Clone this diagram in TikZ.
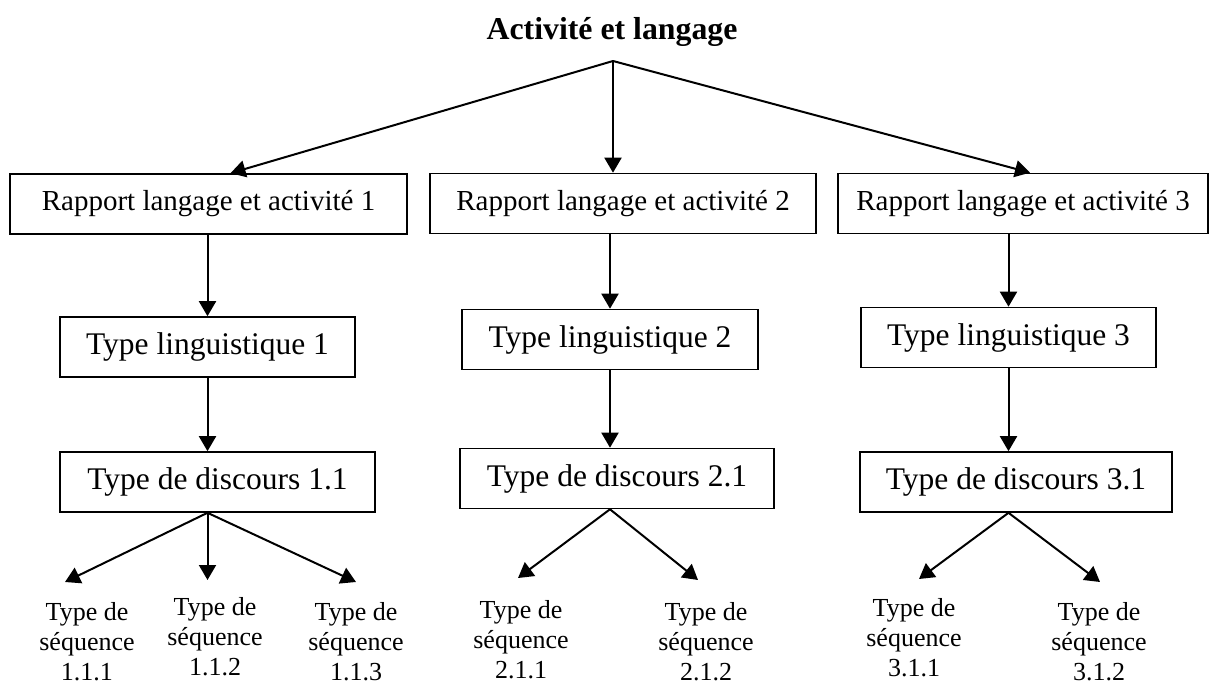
\documentclass[tikz,border=0pt]{standalone}
\usepackage{fontspec}
\setmainfont{Liberation Serif}
\usepackage{tikz}
\usetikzlibrary{arrows.meta}
\tikzset{
    boite/.style={
        draw, line width=0.8pt, inner sep=0pt,
        minimum width=#1, minimum height=30pt
    },
    boite/.default=150pt,
    fleche/.style={-{Triangle[length=7.5pt,width=8.5pt]}, line width=1pt},
    seq/.style={align=center, inner sep=0pt, anchor=north, font=\fontsize{13}{15}\selectfont}
}
\newcommand{\rapport}[4] {
	\node[boite=#4, font=\fontsize{14.5}{17}\selectfont] (#1) at (#2,#3) {Rapport langage et activité #1};
}
\newcommand{\typebox}[5] {
	\node[boite=#4, font=\fontsize{15.75}{18}\selectfont] (#1) at (#2,#3) {#5};
}
\newcommand{\seqlabel}[4] {
	\node[seq] (#1) at (#2,#3) {Type de\\séquence\\#4};
}

\begin{document}
\begin{tikzpicture}[x=0.5pt,y=-0.5pt]
		\useasboundingbox (0,0) rectangle (1210,684);

		% titre
		\node[anchor=base, font=\fontsize{15.9}{18}\selectfont\bfseries] (titre) at (612,40) {Activité et langage};
		\coordinate (top) at (613,61);

		% rapports
		\rapport{1}{208.5}{204}{198.5pt}
		\rapport{2}{623}{203.5}{193pt}
		\rapport{3}{1023}{203.5}{185pt}
		\draw[fleche] (top) -- ([xshift=11pt]1.north);
		\draw[fleche] (top) -- ([xshift=-5pt]2.north);
		\draw[fleche] (top) -- ([xshift=3.5pt]3.north);

		% colonne 1
		\typebox{TL1}{207.5}{347}{147.5pt}{Type linguistique 1}
		\typebox{TD1}{217.5}{482}{157.5pt}{Type de discours 1.1}
		\draw[fleche] (1.south -| TL1) -- (TL1.north);
		\draw[fleche] (TL1.south) -- (TL1.south |- TD1.north);
		\seqlabel{S111}{87}{602}{1.1.1}
		\seqlabel{S112}{215}{597}{1.1.2}
		\seqlabel{S113}{356}{602}{1.1.3}
		\draw[fleche] (TD1.south -| TL1) -- ([shift={(-11pt,10pt)}]S111.north);
		\draw[fleche] (TD1.south -| TL1) -- ([shift={(-3.75pt,8.5pt)}]S112.north);
		\draw[fleche] (TD1.south -| TL1) -- ([shift={(0pt,10pt)}]S113.north);

		% colonne 2
		\typebox{TL2}{610}{339.5}{148pt}{Type linguistique 2}
		\typebox{TD2}{617}{478.5}{157pt}{Type de discours 2.1}
		\draw[fleche] (2.south -| TL2) -- (TL2.north);
		\draw[fleche] (TL2.south) -- (TL2.south |- TD2.north);
		\seqlabel{S211}{521}{600}{2.1.1}
		\seqlabel{S212}{706}{602}{2.1.2}
		\draw[fleche] (TD2.south -| TL2) -- ([shift={(-1.5pt,11pt)}]S211.north);
		\draw[fleche] (TD2.south -| TL2) -- ([shift={(-4pt,11pt)}]S212.north);

		% colonne 3
		\typebox{TL3}{1008.5}{337.5}{147.5pt}{Type linguistique 3}
		\typebox{TD3}{1016}{482}{156pt}{Type de discours 3.1}
		\draw[fleche] (3.south -| TL3) -- (TL3.north);
		\draw[fleche] (TL3.south) -- (TL3.south |- TD3.north);
		\seqlabel{S311}{914}{598}{3.1.1}
		\seqlabel{S312}{1099}{602}{3.1.2}
		\draw[fleche] (TD3.south -| TL3) -- ([shift={(2.5pt,9.5pt)}]S311.north);
		\draw[fleche] (TD3.south -| TL3) -- ([shift={(0.5pt,10pt)}]S312.north);
\end{tikzpicture}
\end{document}
